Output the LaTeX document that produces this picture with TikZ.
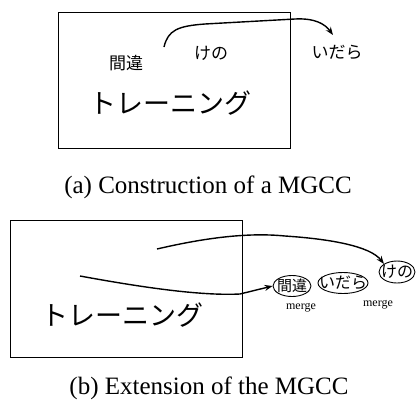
\documentclass[tikz,border=0pt]{standalone}
\usepackage{fontspec}
\setmainfont{Liberation Serif}
\newfontfamily\jp{Noto Sans CJK JP}
\usetikzlibrary{arrows.meta,shapes.geometric}
\tikzset{
  frame/.style={draw,line width=0.9pt},
  conn/.style={line width=1.4pt,-{Stealth[length=8pt,width=6pt]}},
  jtext/.style={inner sep=0pt,font=\jp\fontsize{17}{17}\selectfont},
  bigj/.style={inner sep=0pt,font=\jp\fontsize{27}{27}\selectfont},
  oval/.style={ellipse,draw,line width=0.9pt,inner sep=0pt},
  captext/.style={inner sep=0pt,anchor=base,font=\fontsize{25}{25}\selectfont},
  mlabel/.style={inner sep=0pt,font=\fontsize{12}{12}\selectfont},
}
\begin{document}
\begin{tikzpicture}[x=1pt,y=-1pt]
\useasboundingbox (0,0) rectangle (417,399);
% (a)
\node[frame,minimum width=232pt,minimum height=136pt,inner sep=0pt] (boxa) at (174,80) {};
\node[jtext] (machia) at (126,63) {間違};
\node[jtext] (kenoa) at (211,53) {けの};
\node[jtext] (idaraa) at (337,52) {いだら};
\node[bigj] (traina) at (170,103) {トレーニング};
\coordinate (sa) at (164,47);
\coordinate (ea) at (333,35);
\draw[conn] (sa) .. controls (168,30) and (178,26) .. (205,24) -- (295,19) .. controls (315,18) and (325,24) .. (ea);
\node[captext] (capa) at (208,193) {(a) Construction of a MGCC};
% (b)
\node[frame,minimum width=232pt,minimum height=137pt,inner sep=0pt] (boxb) at (126,288.5) {};
\node[bigj] (trainb) at (122,315) {トレーニング};
\node[oval,minimum width=38pt,minimum height=21pt] (machib) at (292,286) {};
\node[jtext,font=\jp\fontsize{15}{15}\selectfont] at (machib) {間違};
\node[oval,minimum width=50pt,minimum height=21pt] (idarab) at (343,283) {};
\node[jtext,font=\jp\fontsize{16}{16}\selectfont] at (idarab) {いだら};
\node[oval,minimum width=36pt,minimum height=22pt] (kenob) at (397,272) {};
\node[jtext,font=\jp\fontsize{16}{16}\selectfont] at (kenob) {けの};
\node[mlabel] (m1) at (301,308) {merge};
\node[mlabel] (m2) at (378,305) {merge};
\coordinate (sb1) at (157,249);
\coordinate (sb2) at (80,276);
\draw[conn] (sb1) .. controls (200,239) and (245,232) .. (285,236) .. controls (330,239) and (370,246) .. (kenob.north west);
\draw[conn] (sb2) .. controls (140,287) and (200,296) .. (240,294) -- (machib.west);
\node[captext] (capb) at (209,394) {(b) Extension of the MGCC};
\end{tikzpicture}
\end{document}
